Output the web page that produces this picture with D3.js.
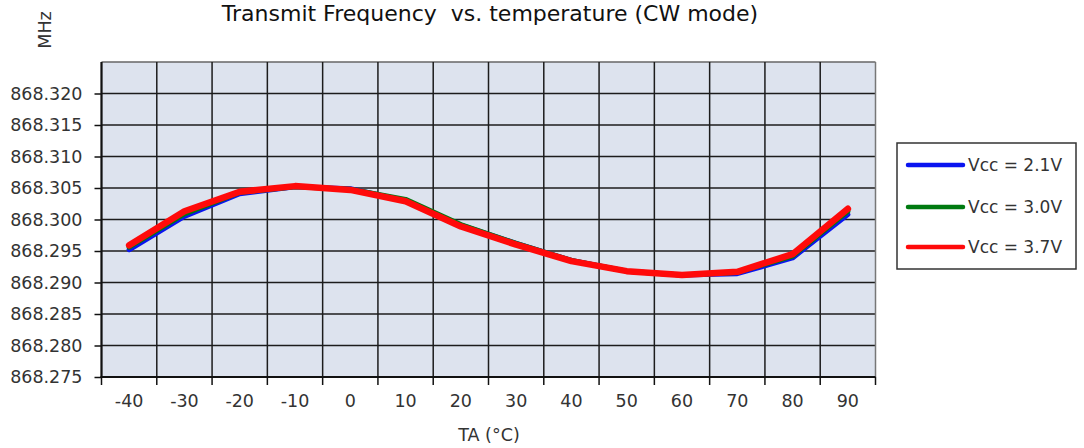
<!DOCTYPE html>
<html>
<head>
<meta charset="utf-8">
<script src="https://cdn.jsdelivr.net/npm/d3@7/dist/d3.min.js"></script>
<style>
  html, body { margin: 0; padding: 0; background: #ffffff; }
  svg { display: block; }
</style>
</head>
<body>
<svg id="chart" width="1084" height="448"></svg>
<script>
// ---- data ----
const temperatures = ["-40", "-30", "-20", "-10", "0", "10", "20", "30", "40", "50", "60", "70", "80", "90"];
const vcc21 = [868.2952, 868.3005, 868.3041, 868.3052, 868.3049, 868.3030, 868.2991, 868.2962, 868.2935, 868.2918, 868.2912, 868.2914, 868.2939, 868.3008];
const vcc30 = [868.2956, 868.3009, 868.3043, 868.3052, 868.3048, 868.3032, 868.2992, 868.2962, 868.2935, 868.2918, 868.2912, 868.2916, 868.2942, 868.3013];
const vcc37 = [868.2959, 868.3013, 868.3044, 868.3053, 868.3047, 868.3029, 868.2989, 868.2960, 868.2934, 868.2918, 868.2912, 868.2917, 868.2945, 868.3017];
const yTickValues = [868.275, 868.280, 868.285, 868.290, 868.295, 868.300, 868.305, 868.310, 868.315, 868.320];
const yGridValues = [868.275, 868.280, 868.285, 868.290, 868.295, 868.300, 868.305, 868.310, 868.315, 868.320, 868.325];
const seriesNames = ["Vcc = 2.1V", "Vcc = 3.0V", "Vcc = 3.7V"];
const titleText = "Transmit Frequency  vs. temperature (CW mode)";
const yTitle = "MHz";
const xTitle = "TA (°C)";

const series = [
  { name: seriesNames[0], values: vcc21, color: "#0a14f0", width: 5 },
  { name: seriesNames[1], values: vcc30, color: "#007a10", width: 5 },
  { name: seriesNames[2], values: vcc37, color: "#ff0a0a", width: 6.5 }
];

// ---- layout ----
const L = 101.5, R = 875.5, T = 62, B = 377;
const svg = d3.select("#chart");
const font = "'DejaVu Sans', sans-serif";

const x = d3.scaleBand().domain(temperatures).range([L, R]).padding(0);
const y = d3.scaleLinear().domain([868.275, 868.325]).range([B, T]);
const bw = x.bandwidth();

// plot background
svg.append("rect").attr("x", L).attr("y", T).attr("width", R - L).attr("height", B - T)
  .attr("fill", "#dde3ee");

// grid
const grid = svg.append("g").attr("stroke", "#1c1c1c").attr("stroke-width", 1.5);
grid.selectAll("line.h").data(yGridValues).join("line").attr("class", "h")
  .attr("x1", L).attr("x2", R).attr("y1", d => y(d)).attr("y2", d => y(d))
  .attr("stroke", (d, i) => i === yGridValues.length - 1 ? "#666" : "#1c1c1c");
const boundaries = temperatures.map(t => x(t)).concat([R]);
grid.selectAll("line.v").data(boundaries).join("line").attr("class", "v")
  .attr("x1", d => d).attr("x2", d => d).attr("y1", T).attr("y2", B)
  .attr("stroke", (d, i) => i === boundaries.length - 1 ? "#777" : "#1c1c1c");

// axes lines
svg.append("line").attr("x1", L).attr("x2", L).attr("y1", T).attr("y2", B + 1)
  .attr("stroke", "#111").attr("stroke-width", 2);
svg.append("line").attr("x1", L - 1).attr("x2", R).attr("y1", B).attr("y2", B)
  .attr("stroke", "#111").attr("stroke-width", 2);

// y axis
const yAxis = d3.axisLeft(y).tickValues(yTickValues).tickFormat(d3.format(".3f")).tickSize(7).tickSizeOuter(0).tickPadding(12);
const gy = svg.append("g").attr("transform", `translate(${L},0)`).call(yAxis);
gy.select(".domain").remove();
gy.selectAll(".tick line").attr("stroke", "#111").attr("stroke-width", 1.5);
gy.selectAll(".tick text").attr("font-family", font).attr("font-size", 17.5).attr("fill", "#333");

// x axis labels (band centers) and boundary ticks
const xAxis = d3.axisBottom(x).tickSize(0).tickPadding(18);
const gx = svg.append("g").attr("transform", `translate(0,${B})`).call(xAxis);
gx.select(".domain").remove();
gx.selectAll(".tick text").attr("font-family", font).attr("font-size", 17.5).attr("fill", "#333");
svg.append("g").selectAll("line").data(boundaries).join("line")
  .attr("x1", d => d).attr("x2", d => d).attr("y1", B).attr("y2", B + 8)
  .attr("stroke", "#111").attr("stroke-width", 1.5);

// series lines
const line = d3.line().x((d, i) => x(temperatures[i]) + bw / 2).y(d => y(d));
svg.append("g").selectAll("path").data(series).join("path")
  .attr("d", s => line(s.values))
  .attr("fill", "none").attr("stroke", s => s.color).attr("stroke-width", s => s.width)
  .attr("stroke-linejoin", "round").attr("stroke-linecap", "round");

// titles
svg.append("text").attr("x", 490).attr("y", 21).attr("text-anchor", "middle")
  .style("white-space", "pre")
  .attr("font-family", font).attr("font-size", 22).attr("fill", "#111")
  .text(titleText);
svg.append("text").attr("transform", "translate(51,30) rotate(-90)").attr("text-anchor", "middle")
  .attr("font-family", font).attr("font-size", 17.5).attr("fill", "#333").text(yTitle);
svg.append("text").attr("x", 489).attr("y", 441).attr("text-anchor", "middle")
  .attr("font-family", font).attr("font-size", 17.5).attr("fill", "#333").text(xTitle);

// legend
const lg = svg.append("g");
lg.append("rect").attr("x", 897).attr("y", 143).attr("width", 179).attr("height", 126)
  .attr("fill", "#fff").attr("stroke", "#333").attr("stroke-width", 1.5);
const rowsY = [165, 207, 247];
const items = lg.selectAll("g.item").data(series).join("g").attr("class", "item")
  .attr("transform", (d, i) => `translate(0,${rowsY[i]})`);
items.append("line").attr("x1", 908).attr("x2", 963).attr("y1", 0).attr("y2", 0)
  .attr("stroke", d => d.color).attr("stroke-width", 4.5).attr("stroke-linecap", "round");
items.append("text").attr("x", 968).attr("y", 0).attr("dy", "0.36em")
  .attr("font-family", font).attr("font-size", 17).attr("fill", "#333").text(d => d.name);
</script>
</body>
</html>
